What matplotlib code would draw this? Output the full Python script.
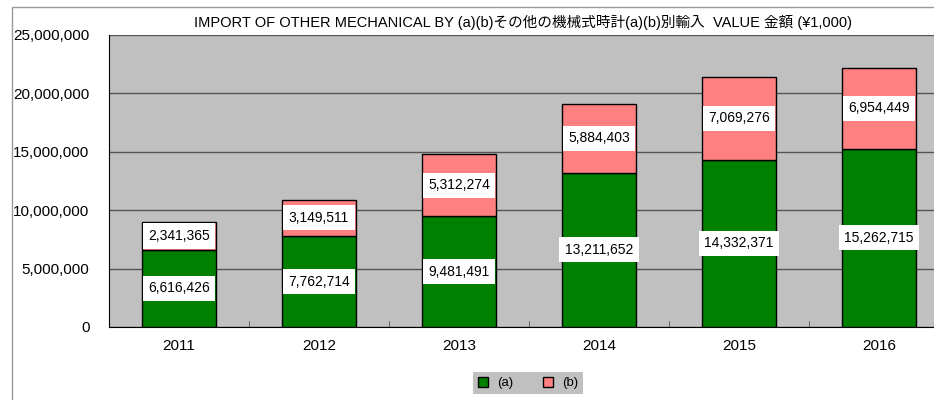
import matplotlib.pyplot as plt
from matplotlib.patches import Rectangle
import numpy as np

plt.rcParams['font.family'] = ['Liberation Sans', 'Noto Sans CJK JP']

years = ["2011", "2012", "2013", "2014", "2015", "2016"]
vals_a = [6616426, 7762714, 9481491, 13211652, 14332371, 15262715]
vals_b = [2341365, 3149511, 5312274, 5884403, 7069276, 6954449]
title = "IMPORT OF OTHER MECHANICAL BY (a)(b)その他の機械式時計(a)(b)別輸入  VALUE 金額 (¥1,000)"

fig = plt.figure(figsize=(9.34, 4.0), dpi=100)
# outer chart border
fig.patches.append(Rectangle((12 / 934, -0.1), 1.2, (400 - 7) / 400 + 0.1,
                             transform=fig.transFigure, fill=False,
                             edgecolor="#9a9a9a", linewidth=1))

ax = fig.add_axes([109 / 934, 73 / 400, 840 / 934, 292 / 400])
ax.set_facecolor("#C0C0C0")

x = np.arange(len(years))
w = 0.53
ax.bar(x, vals_a, w, color="#008000", edgecolor="black", linewidth=1, label="(a)", zorder=3)
ax.bar(x, vals_b, w, bottom=vals_a, color="#FF8080", edgecolor="black", linewidth=1, label="(b)", zorder=3)

box = dict(facecolor="white", edgecolor="none", pad=4)
for i in range(len(years)):
    ax.text(x[i], vals_a[i] / 2, f"{vals_a[i]:,}", ha="center", va="center",
            fontsize=10, bbox=box, zorder=4)
    ax.text(x[i], vals_a[i] + vals_b[i] / 2, f"{vals_b[i]:,}", ha="center", va="center",
            fontsize=10, bbox=box, zorder=4)

ax.set_xlim(-0.5, len(years) - 0.5)
ax.set_ylim(0, 25000000)
ax.set_yticks(np.arange(0, 25000001, 5000000))
ax.set_yticklabels([f"{v:,}" for v in range(0, 25000001, 5000000)], fontsize=11)
ax.set_xticks(x)
ax.set_xticklabels(years, fontsize=11)
ax.set_xticks(np.arange(0.5, len(years) - 1, 1), minor=True)
ax.tick_params(axis="x", which="major", length=0, pad=9)
ax.tick_params(axis="x", which="minor", length=4, direction="in", color="#555555")
ax.tick_params(axis="y", length=0, pad=14)
ax.yaxis.grid(True, color="#555555", linewidth=1, zorder=1)
ax.set_axisbelow(True)
for s in ["top", "right"]:
    ax.spines[s].set_visible(False)
ax.spines["left"].set_color("black")
ax.spines["bottom"].set_color("black")

fig.text(523 / 934, 1 - 22 / 400, title, ha="center", va="center", fontsize=10.5)

leg = fig.legend(loc="center", bbox_to_anchor=(528 / 934, 1 - 383 / 400), ncol=2,
                 fontsize=9.5, frameon=True, fancybox=False, handlelength=0.8,
                 handleheight=0.8, columnspacing=2.2, borderpad=0.35, handletextpad=0.7)
leg.get_frame().set_facecolor("#C0C0C0")
leg.get_frame().set_edgecolor("none")
leg.get_frame().set_alpha(1)

plt.savefig("out.png", dpi=100)
